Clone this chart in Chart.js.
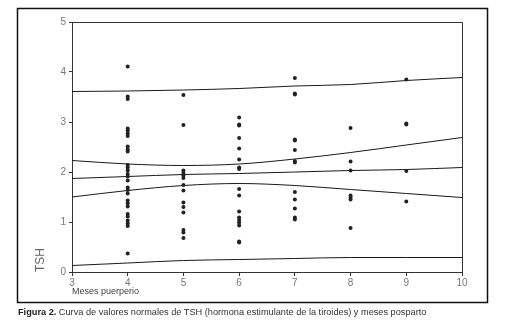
<!DOCTYPE html>
<html>
<head>
<meta charset="utf-8">
<script src="https://cdn.jsdelivr.net/npm/chart.js@4"></script>
<style>
  html, body { margin: 0; padding: 0; background: #fff; }
  #wrap { position: relative; width: 508px; height: 329px; }
  #chart { position: absolute; left: 0; top: 0; }
  #caption {
    position: absolute; left: 18px; top: 307px;
    font-family: "Liberation Sans", Arial, sans-serif;
    font-size: 9.2px; color: #333; white-space: nowrap;
  }
  #caption b { color: #222; }
</style>
</head>
<body>
<div id="wrap">
  <canvas id="chart" width="508" height="329"></canvas>
  <div id="caption"><b>Figura 2.</b> Curva de valores normales de TSH (hormona estimulante de la tiroides) y meses posparto</div>
</div>
<script>
// meses puerperio (eje x) para las curvas
const months = [3, 4, 5, 6, 7, 8, 9, 10];

// curvas de referencia TSH
const lineUpper  = [3.61, 3.62, 3.64, 3.67, 3.72, 3.75, 3.83, 3.89];
const lineQ3     = [2.23, 2.16, 2.13, 2.16, 2.26, 2.39, 2.54, 2.69];
const lineMedian = [1.87, 1.91, 1.95, 1.97, 2.00, 2.03, 2.05, 2.09];
const lineQ1     = [1.50, 1.63, 1.73, 1.77, 1.73, 1.65, 1.57, 1.49];
const lineLower  = [0.13, 0.18, 0.23, 0.25, 0.27, 0.29, 0.29, 0.29];

// valores individuales por mes
const tshMonth4 = [4.11, 3.51, 3.46, 2.87, 2.83, 2.77, 2.72, 2.51, 2.45, 2.41, 2.14, 2.09,
                   2.03, 1.96, 1.91, 1.83, 1.69, 1.64, 1.57, 1.43, 1.37, 1.31, 1.16, 1.11,
                   1.03, 0.97, 0.92, 0.37];
const tshMonth5 = [3.54, 2.94, 2.03, 1.98, 1.93, 1.88, 1.74, 1.63, 1.39, 1.30, 1.19, 0.84, 0.79, 0.68];
const tshMonth6 = [3.09, 2.95, 2.93, 2.68, 2.47, 2.25, 2.09, 2.06, 1.66, 1.53, 1.21, 1.09,
                   1.04, 0.99, 0.93, 0.61, 0.59];
const tshMonth7 = [3.88, 3.57, 3.55, 2.65, 2.63, 2.44, 2.22, 2.19, 1.60, 1.45, 1.27, 1.09, 1.05];
const tshMonth8 = [2.88, 2.21, 2.03, 1.53, 1.49, 1.45, 0.88];
const tshMonth9 = [3.85, 2.97, 2.95, 2.02, 1.41];

const xTicks = [3, 4, 5, 6, 7, 8, 9, 10];
const yTicks = [0, 1, 2, 3, 4, 5];

function toXY(xs, ys) {
    return ys.map(function(v, i) { return { x: xs[i], y: v }; });
}
function column(m, ys) {
    return ys.map(function(v) { return { x: m, y: v }; });
}

const scatterPoints = []
    .concat(column(4, tshMonth4))
    .concat(column(5, tshMonth5))
    .concat(column(6, tshMonth6))
    .concat(column(7, tshMonth7))
    .concat(column(8, tshMonth8))
    .concat(column(9, tshMonth9));

function curve(values) {
    return {
        type: 'line',
        data: toXY(months, values),
        borderColor: '#1a1a1a',
        borderWidth: 1,
        pointRadius: 0,
        fill: false,
        cubicInterpolationMode: 'monotone'
    };
}

// marco exterior + borde superior/derecho del area
const framePlugin = {
    id: 'frame',
    afterDraw: function(chart) {
        const ctx = chart.ctx;
        const a = chart.chartArea;
        ctx.save();
        ctx.strokeStyle = '#111';
        ctx.lineWidth = 1.5;
        ctx.strokeRect(17.5, 8.5, 470, 294);
        ctx.lineWidth = 1;
        ctx.strokeStyle = '#333';
        ctx.beginPath();
        ctx.moveTo(a.left, a.top + 0.5);
        ctx.lineTo(a.right + 0.5, a.top + 0.5);
        ctx.lineTo(a.right + 0.5, a.bottom);
        ctx.stroke();
        ctx.restore();
    }
};

const tickFont = { family: '"Liberation Sans", Arial, sans-serif', size: 10 };

new Chart(document.getElementById('chart'), {
    type: 'scatter',
    data: {
        datasets: [
            {
                type: 'scatter',
                data: scatterPoints,
                pointRadius: 2,
                pointBackgroundColor: '#222',
                pointBorderWidth: 0
            },
            curve(lineUpper),
            curve(lineQ3),
            curve(lineMedian),
            curve(lineQ1),
            curve(lineLower)
        ]
    },
    options: {
        responsive: false,
        animation: false,
        layout: { padding: { top: 22, right: 46, left: 33, bottom: 32 } },
        plugins: { legend: { display: false }, tooltip: { enabled: false } },
        scales: {
            x: {
                type: 'linear', min: 3, max: 10,
                afterBuildTicks: function(s) { s.ticks = xTicks.map(function(v) { return { value: v }; }); },
                afterFit: function(s) { s.height = 25; },
                grid: { drawOnChartArea: false, tickLength: 4, color: '#333' },
                border: { color: '#333' },
                ticks: { color: '#777', font: tickFont, padding: 1, maxRotation: 0 },
                title: {
                    display: true, text: 'Meses puerperio', align: 'start',
                    color: '#444', font: { family: '"Liberation Sans", Arial, sans-serif', size: 9 },
                    padding: { top: 0, bottom: 0 }
                }
            },
            y: {
                min: 0, max: 5,
                afterBuildTicks: function(s) { s.ticks = yTicks.map(function(v) { return { value: v }; }); },
                afterFit: function(s) { s.width = 39; },
                grid: { drawOnChartArea: false, tickLength: 3, color: '#333' },
                border: { color: '#333' },
                ticks: { color: '#777', font: tickFont, padding: 3 },
                title: {
                    display: true, text: 'TSH', align: 'start',
                    color: '#666', font: { family: '"Liberation Sans", Arial, sans-serif', size: 12 },
                    padding: { top: 0, bottom: 0 }
                }
            }
        }
    },
    plugins: [framePlugin]
});
</script>
</body>
</html>
